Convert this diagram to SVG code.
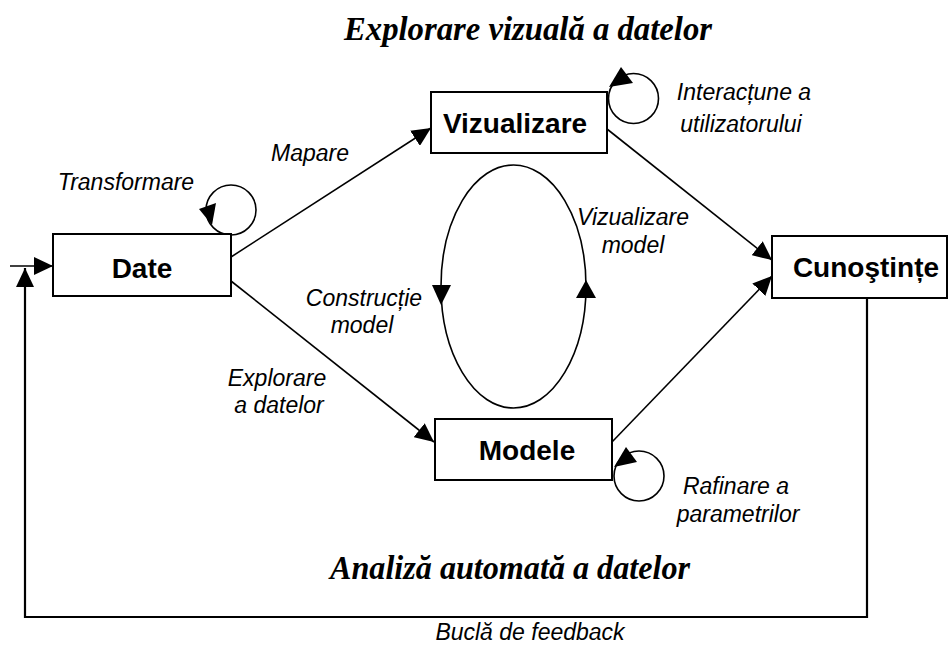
<svg xmlns="http://www.w3.org/2000/svg" width="949" height="648" viewBox="0 0 949 648">
<style>
.box{fill:#fff;stroke:#000;stroke-width:2}
.con{fill:none;stroke:#000;stroke-width:1.6}
.loop{fill:none;stroke:#000;stroke-width:1.6}
.head{fill:#000}
.bl{font-family:"Liberation Sans",Arial,sans-serif;font-weight:bold;font-size:28px;text-anchor:middle;fill:#000}
.il{font-family:"Liberation Sans",Arial,sans-serif;font-style:italic;font-size:23px;text-anchor:middle;fill:#000}
.tt{font-family:"Liberation Serif","Times New Roman",serif;font-style:italic;font-weight:bold;font-size:34px;fill:#000}
</style>
<defs>
<marker id="arr" markerUnits="userSpaceOnUse" markerWidth="20" markerHeight="18" viewBox="0 0 20 18" refX="19" refY="9" orient="auto">
<path d="M0,0 L19,9 L0,18 z" fill="#000"/>
</marker>
</defs>
<rect width="949" height="648" fill="#fff"/>
<g id="connectors">
<path class="con" d="M231,257 L431,128" marker-end="url(#arr)"/>
<path class="con" d="M231,281 L434,442" marker-end="url(#arr)"/>
<path class="con" d="M607,129 L772,260" marker-end="url(#arr)"/>
<path class="con" d="M612,442 L772,276" marker-end="url(#arr)"/>
<path fill="none" stroke="#000" stroke-width="2.2" d="M867,298 V617 H25 V268" marker-end="url(#arr)"/>
<path class="con" d="M10,266 H53" marker-end="url(#arr)"/>
<ellipse class="loop" cx="513.5" cy="286.5" rx="72.5" ry="121.5"/>
<polygon class="head" points="432,285 451,285 441,305"/>
<polygon class="head" points="576,298 596,298 586,280"/>
<circle class="loop" cx="231" cy="210" r="25"/>
<polygon class="head" points="199,209 216,203 212,225"/>
<circle class="loop" cx="633.5" cy="98.5" r="25"/>
<polygon class="head" points="621,67 633,83 609,87"/>
<circle class="loop" cx="639" cy="476" r="25"/>
<polygon class="head" points="626,447 637,462 614,467"/>
</g>
<g id="date">
<rect class="box" x="53" y="234" width="178" height="62"/>
<text class="bl" x="142" y="278">Date</text>
</g>
<g id="vizualizare">
<rect class="box" x="431" y="92" width="176" height="61"/>
<text class="bl" x="515" y="133">Vizualizare</text>
</g>
<g id="modele">
<rect class="box" x="435" y="419" width="177" height="61"/>
<text class="bl" x="527" y="460">Modele</text>
</g>
<g id="cunostinte">
<rect class="box" x="772" y="236" width="175" height="62"/>
<text class="bl" x="866" y="277">Cunoştințe</text>
</g>
<g id="labels">
<text class="il" x="126" y="190">Transformare</text>
<text class="il" x="310" y="161">Mapare</text>
<text class="il" x="744" y="100">Interacțune a</text>
<text class="il" x="741" y="132">utilizatorului</text>
<text class="il" x="633" y="225">Vizualizare</text>
<text class="il" x="633" y="253">model</text>
<text class="il" x="364" y="306">Construcție</text>
<text class="il" x="362" y="333">model</text>
<text class="il" x="277" y="386">Explorare</text>
<text class="il" x="279" y="413">a datelor</text>
<text class="il" x="736" y="494">Rafinare a</text>
<text class="il" x="738" y="522">parametrilor</text>
<text class="il" x="530" y="640">Buclă de feedback</text>
</g>
<g id="titles">
<text class="tt" x="344" y="40" textLength="368" lengthAdjust="spacingAndGlyphs">Explorare vizuală a datelor</text>
<text class="tt" x="330" y="579" textLength="360" lengthAdjust="spacingAndGlyphs">Analiză automată a datelor</text>
</g>
</svg>
